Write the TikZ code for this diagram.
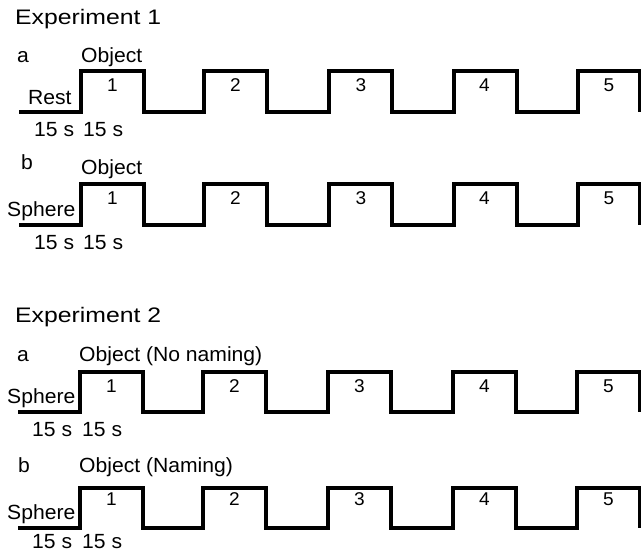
\documentclass[tikz,border=0pt]{standalone}
\usepackage{fontspec}
\setmainfont[FakeStretch=1.03]{Liberation Sans}
\newfontfamily\headfont[FakeStretch=1.18]{Liberation Sans}
\usetikzlibrary{positioning}

\begin{document}
\begin{tikzpicture}[
  x=1pt, y=-1pt,
  font=\fontsize{20.5}{24}\selectfont,
  % Text styles
  lbl/.style={inner sep=0pt, anchor=base west},
  num/.style={inner sep=0pt, anchor=base, font=\fontsize{18.5}{22}\selectfont},
  head/.style={inner sep=0pt, anchor=base west, font=\headfont\fontsize{21}{25}\selectfont},
  % Block design trace
  wave/.style={draw, line width=3.2pt, line join=miter}
]
  \useasboundingbox (0,0) rectangle (641,556);

  % ==========================================
  % EXPERIMENT 1
  % ==========================================
  \node[head] (exp1) at (15,25) {Experiment 1};

  % Run a: rest / object
  \node[lbl] (a1) at (17,63) {a};
  \node[lbl] (obj1) at (81,63) {Object};
  \node[lbl] (rest1) at (28,105) {Rest};
  \draw[wave] (19,112) \foreach \r/\f in {81/144, 204/267, 329/392, 454/517, 578/640} { -- (\r,112) -- (\r,71) -- (\f,71) -- (\f,112) };
  \foreach \n/\c in {1/112.5, 2/235.5, 3/361, 4/484.5, 5/609}
    \node[num] (na\n) at (\c,92) {\n};
  \node[lbl] (t1a) at (34,137) {15 s};
  \node[lbl] (t1b) at (83,137) {15 s};

  % Run b: sphere / object
  \node[lbl] (b1) at (21,170) {b};
  \node[lbl] (obj2) at (81,175) {Object};
  \node[lbl] (sph2) at (7,217) {Sphere};
  \draw[wave] (19,225) \foreach \r/\f in {81/144, 204/267, 329/392, 454/517, 578/640} { -- (\r,225) -- (\r,184) -- (\f,184) -- (\f,225) };
  \foreach \n/\c in {1/112.5, 2/235.5, 3/361, 4/484.5, 5/609}
    \node[num] (nb\n) at (\c,205) {\n};
  \node[lbl] (t2a) at (34,250) {15 s};
  \node[lbl] (t2b) at (83,250) {15 s};

  % ==========================================
  % EXPERIMENT 2
  % ==========================================
  \node[head] (exp2) at (15,323) {Experiment 2};

  % Run a: no naming
  \node[lbl] (a2) at (17,362) {a};
  \node[lbl] (obj3) at (79,362) {Object (No naming)};
  \node[lbl] (sph3) at (7,404) {Sphere};
  \draw[wave] (18,412) \foreach \r/\f in {80/143, 203/266, 328/391, 453/516, 577/640} { -- (\r,412) -- (\r,372) -- (\f,372) -- (\f,412) };
  \foreach \n/\c in {1/111.5, 2/234.5, 3/359.5, 4/484.5, 5/608.5}
    \node[num] (nc\n) at (\c,393) {\n};
  \node[lbl] (t3a) at (32,437) {15 s};
  \node[lbl] (t3b) at (82,437) {15 s};

  % Run b: naming
  \node[lbl] (b2) at (18,473) {b};
  \node[lbl] (obj4) at (79,473) {Object (Naming)};
  \node[lbl] (sph4) at (7,520) {Sphere};
  \draw[wave] (18,528) \foreach \r/\f in {80/143, 203/266, 328/391, 453/516, 577/640} { -- (\r,528) -- (\r,488) -- (\f,488) -- (\f,528) };
  \foreach \n/\c in {1/111.5, 2/234.5, 3/359.5, 4/484.5, 5/608.5}
    \node[num] (nd\n) at (\c,506) {\n};
  \node[lbl] (t4a) at (32,548) {15 s};
  \node[lbl] (t4b) at (82,548) {15 s};

\end{tikzpicture}
\end{document}
